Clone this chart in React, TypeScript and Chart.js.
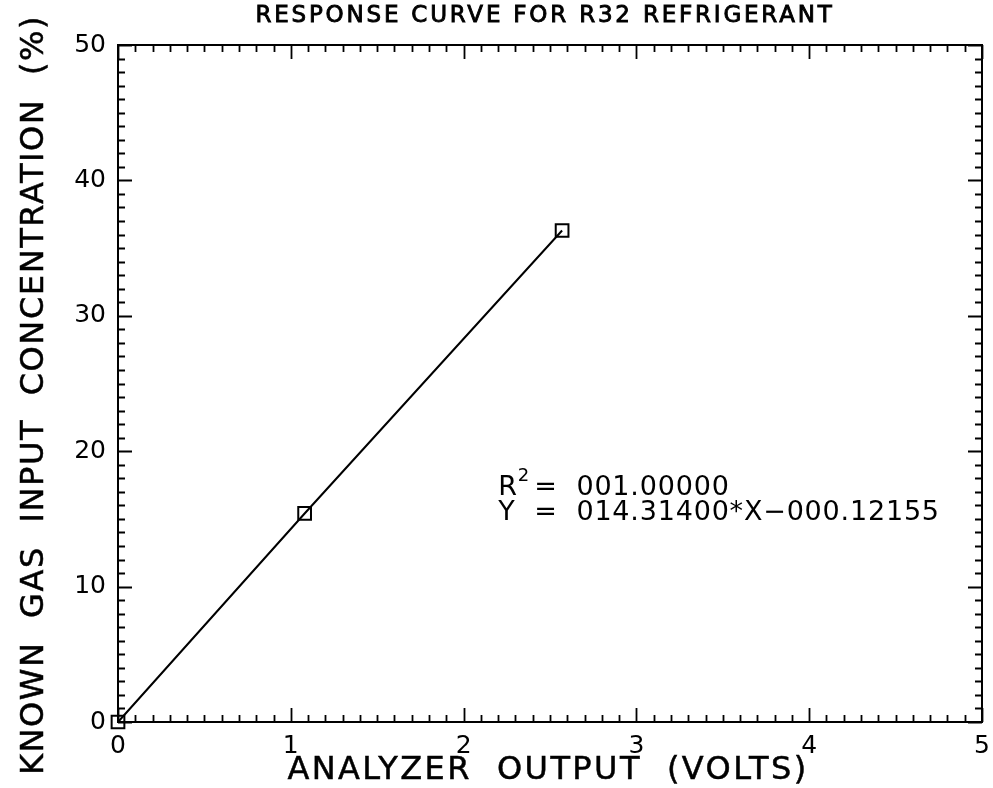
import React, { useEffect, useRef } from "react";
import { Chart, registerables } from "chart.js";

Chart.register(...registerables);

const TITLE = "RESPONSE CURVE FOR R32 REFRIGERANT";
const X_TITLE = "ANALYZER  OUTPUT  (VOLTS)";
const Y_TITLE = "KNOWN  GAS  INPUT  CONCENTRATION  (%)";

const voltage = [0, 1.08, 2.57];
const concentration = [0, 15.4, 36.3];

const xTickValues = [0, 1, 2, 3, 4, 5];
const yTickValues = [0, 10, 20, 30, 40, 50];

const r2Value = "001.00000";
const fitValue = "014.31400*X\u2212000.12155";
const annotationAt = { x: 2.2, y1: 17.3, y2: 15.4 };

const FONT = "'DejaVu Sans', 'Liberation Sans', sans-serif";

export default function App() {
  const ref = useRef<HTMLCanvasElement | null>(null);

  useEffect(() => {
    const canvas = ref.current;
    if (!canvas) return;
    const decor = {
      id: "decor",
      afterDraw(chart: any) {
        const ctx = chart.ctx as any;
        const area = chart.chartArea;
        const xs = chart.scales.x;
        const ys = chart.scales.y;
        ctx.save();
        ctx.strokeStyle = "#000";
        ctx.fillStyle = "#000";
        // frame
        ctx.lineWidth = 2;
        ctx.strokeRect(area.left, area.top, area.right - area.left, area.bottom - area.top);
        // x ticks
        ctx.lineWidth = 1.8;
        for (let i = 0; i <= 50; i++) {
          const v = i / 10;
          const px = Math.round(xs.getPixelForValue(v)) + 0.5;
          const len = i % 10 === 0 ? 14 : 7;
          ctx.beginPath();
          ctx.moveTo(px, area.bottom);
          ctx.lineTo(px, area.bottom - len);
          ctx.moveTo(px, area.top);
          ctx.lineTo(px, area.top + len);
          ctx.stroke();
        }
        for (let i = 0; i <= 50; i++) {
          const py = Math.round(ys.getPixelForValue(i)) + 0.5;
          const len = i % 10 === 0 ? 14 : 7;
          ctx.beginPath();
          ctx.moveTo(area.left, py);
          ctx.lineTo(area.left + len, py);
          ctx.moveTo(area.right, py);
          ctx.lineTo(area.right - len, py);
          ctx.stroke();
        }
        const heavy = (t: string, x: number, y: number, w: number) => {
          ctx.lineWidth = w;
          ctx.fillText(t, x, y);
          ctx.strokeText(t, x, y);
        };
        // title
        ctx.textAlign = "center";
        ctx.textBaseline = "middle";
        ctx.font = `23px ${FONT}`;
        ctx.letterSpacing = "2.8px";
        heavy(TITLE, 545, 16, 0.9);
        // x title
        ctx.font = `32px ${FONT}`;
        ctx.letterSpacing = "2.4px";
        heavy(X_TITLE, 548, 771, 0.5);
        // y title
        ctx.save();
        ctx.translate(35, 395);
        ctx.rotate(-Math.PI / 2);
        ctx.letterSpacing = "1.6px";
        heavy(Y_TITLE, 0, 0, 0.5);
        ctx.restore();
        // annotation
        const ax = xs.getPixelForValue(annotationAt.x);
        const ay1 = ys.getPixelForValue(annotationAt.y1);
        const ay2 = ys.getPixelForValue(annotationAt.y2);
        ctx.textAlign = "left";
        ctx.textBaseline = "middle";
        ctx.font = `27px ${FONT}`;
        ctx.letterSpacing = "0.8px";
        const eqX = ax + ctx.measureText("Y  ").width;
        const valX = ax + ctx.measureText("Y  =  ").width;
        ctx.fillText("Y", ax, ay2);
        ctx.fillText("=", eqX, ay2);
        ctx.fillText(fitValue, valX, ay2);
        ctx.fillText("R", ax, ay1);
        const rw = ctx.measureText("R").width;
        ctx.fillText("=", eqX, ay1);
        ctx.fillText(r2Value, valX, ay1);
        ctx.font = `18px ${FONT}`;
        ctx.fillText("2", ax + rw, ay1 - 11);
        ctx.restore();
      },
    };

    const chart = new Chart(canvas, {
      type: "scatter",
      data: {
        datasets: [
          {
            data: voltage.map((v, i) => ({ x: v, y: concentration[i] })),
            showLine: true,
            clip: false,
            borderColor: "#000",
            borderWidth: 2,
            pointStyle: "rect",
            pointRadius: 9,
            pointBorderWidth: 2,
            pointBorderColor: "#000",
            pointBackgroundColor: "rgba(0,0,0,0)",
          },
        ],
      },
      options: {
        responsive: false,
        animation: false,
        events: [],
        layout: { padding: { top: 45, right: 5, left: 0, bottom: 0 } },
        plugins: { legend: { display: false }, tooltip: { enabled: false }, title: { display: false } },
        scales: {
          x: {
            type: "linear",
            min: 0,
            max: 5,
            afterBuildTicks: (s: any) => {
              s.ticks = xTickValues.map((v) => ({ value: v }));
            },
            afterFit: (s: any) => {
              s.height = 66;
              s.paddingLeft = 0;
              s.paddingRight = 0;
            },
            grid: { display: false, drawTicks: false },
            border: { display: false },
            ticks: {
              color: "#000",
              font: { family: FONT, size: 25 },
              padding: 9,
              maxRotation: 0,
              autoSkip: false,
            },
          },
          y: {
            type: "linear",
            min: 0,
            max: 50,
            afterBuildTicks: (s: any) => {
              s.ticks = yTickValues.map((v) => ({ value: v }));
            },
            afterFit: (s: any) => {
              s.width = 118;
              s.paddingTop = 0;
              s.paddingBottom = 0;
            },
            grid: { display: false, drawTicks: false },
            border: { display: false },
            ticks: {
              color: "#000",
              font: { family: FONT, size: 25 },
              padding: 12,
              autoSkip: false,
            },
          },
        },
      },
      plugins: [decor],
    } as any);
    return () => chart.destroy();
  }, []);

  return (
    <div style={{ position: "fixed", left: 0, top: 0, width: 993, height: 788, background: "#fff" }}>
      <canvas ref={ref} width={993} height={788} style={{ width: 993, height: 788 }} />
    </div>
  );
}
